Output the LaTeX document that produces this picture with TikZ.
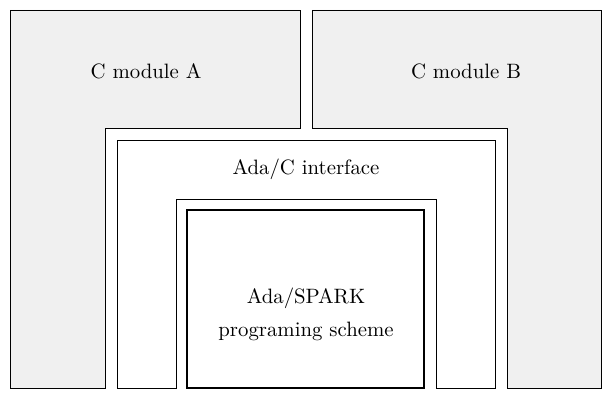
\documentclass[tikz,border=0pt]{standalone}
\usepackage{tikz}
\usetikzlibrary{positioning}

\begin{document}
\begin{tikzpicture}[x=0.0169cm, y=-0.0169cm]
	\useasboundingbox (0,0) rectangle (612,400);

	\begin{scope}[every path/.style={draw=black, fill=black!6}]
		\path (10,10) -- (300,10) -- (300,128) -- (105,128) -- (105,388) -- (10,388) -- cycle;
		\path (312,10) -- (601,10) -- (601,388) -- (507,388) -- (507,128) -- (312,128) -- cycle;
	\end{scope}

	\begin{scope}[every path/.style={draw=black, fill=white}]
		\path (117,140) -- (495,140) -- (495,388) -- (436,388) -- (436,199)
			-- (176,199) -- (176,388) -- (117,388) -- cycle;
		\path[line width=1.2pt] (187,210) rectangle (424,388);
	\end{scope}

	\begin{scope}[every node/.style={align=center}]
		\node (modA) at (146,71) {C module A};
		\node (modB) at (466,71) {C module B};
		\node (iface) at (306,169) {Ada/C interface};
		\node (spark) at (306,314) {Ada/SPARK\\[4pt]programing scheme};
	\end{scope}
\end{tikzpicture}
\end{document}
